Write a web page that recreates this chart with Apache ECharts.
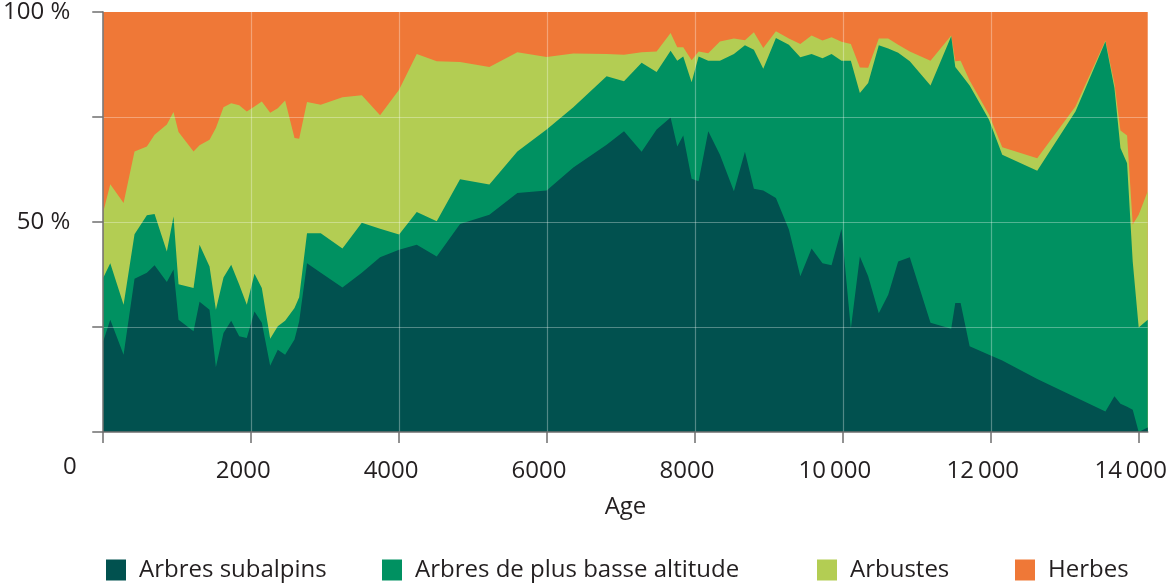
<!DOCTYPE html>
<html>
<head>
<meta charset="utf-8">
<script src="https://cdn.jsdelivr.net/npm/echarts@6/dist/echarts.min.js"></script>
<style>
html,body{margin:0;padding:0;background:#fff;}
#chart{width:1170px;height:584px;}
</style>
</head>
<body>
<div id="chart"></div>
<script>
// Ages (years) of the samples
const ages = [0,95,275,423,590,694,860,950,1018,1221,1302,1437,1523,1626,1730,1838,1941,2045,2144,2257,2360,2459,2586,2649,2755,2941,3234,3496,3743,4000,4239,4509,4824,5221,5599,5995,6356,6806,7041,7279,7482,7671,7761,7842,7955,8050,8180,8338,8527,8676,8797,8924,9095,9270,9425,9577,9725,9847,9982,10108,10230,10342,10486,10613,10748,10905,11185,11465,11520,11592,11714,11975,12155,12628,13145,13550,13672,13753,13843,13919,14000,14122];

// Percentages of each group
const subalpins = [21.6,26.7,18.4,36.5,37.9,39.7,35.7,38.7,26.7,24.0,31.0,29.1,15.4,23.6,26.5,22.8,22.4,28.7,26.0,15.8,19.6,18.4,22.0,26.3,40.2,37.9,34.4,37.9,41.6,43.4,44.6,41.8,49.5,51.7,56.9,57.5,63.0,68.4,71.6,66.7,72.0,74.9,68.0,70.6,60.3,59.7,71.6,66.0,57.3,66.7,57.9,57.5,55.7,48.2,37.1,43.7,40.2,39.7,48.4,24.6,41.8,37.1,28.3,32.7,40.6,41.6,26.0,24.6,30.7,30.7,20.4,18.4,17.0,12.6,8.3,4.9,8.5,6.7,6.0,5.3,0,1.1];
const basseAltitude = [15.1,13.5,11.9,10.6,13.7,12.2,7.3,12.6,8.5,10.3,13.6,10.3,13.7,13.2,13.3,12.3,7.9,9.0,8.3,6.4,5.6,8.1,7.5,5.8,7.1,9.4,9.3,11.9,6.8,3.6,7.8,8.4,10.7,7.2,9.9,14.5,14.3,16.3,11.9,21.2,13.7,15.9,20.4,18.8,23.0,29.7,16.8,22.4,32.7,25.4,33.1,29.0,38.1,44.0,52.1,46.3,48.8,50.3,40.0,63.8,38.9,46.0,63.8,58.6,49.7,46.7,56.5,69.6,56.2,54.6,62.1,56.0,49.0,49.6,68.0,88.1,73.4,60.9,58.0,35.3,24.9,25.6];
const arbustes = [15.7,18.8,24.2,19.7,16.4,18.9,30.2,24.9,36.2,32.5,23.7,30.2,43.3,40.5,38.5,42.7,46.0,39.8,44.4,53.8,51.9,52.4,40.5,37.7,31.3,30.6,36.0,30.4,27.0,34.5,37.6,38.1,27.9,28.0,23.6,17.3,12.8,5.3,6.3,2.5,4.9,4.2,3.2,2.2,5.2,1.2,1.8,4.6,3.7,1.2,4.2,4.9,1.6,1.5,3.2,4.4,4.2,4.0,4.5,4.0,6.1,3.6,1.6,2.4,1.9,2.3,5.9,0.2,1.4,3.1,1.2,1.2,1.8,3.0,1.2,0.2,1.0,4.2,6.6,8.8,26.8,30.6];
const herbes = [47.6,41.0,45.5,33.2,32.0,29.2,26.8,23.8,28.6,33.2,31.7,30.4,27.6,22.7,21.7,22.2,23.7,22.5,21.3,24.0,22.9,21.1,30.0,30.2,21.4,22.1,20.3,19.8,24.6,18.5,10.0,11.7,11.9,13.1,9.6,10.7,9.9,10.0,10.2,9.6,9.4,5.0,8.4,8.4,11.5,9.4,9.8,7.0,6.3,6.7,4.8,8.6,4.6,6.3,7.6,5.6,6.8,6.0,7.1,7.6,13.2,13.3,6.3,6.3,7.8,9.4,11.6,5.6,11.7,11.6,16.3,24.4,32.2,34.8,22.5,6.8,17.1,28.2,29.4,50.6,48.3,42.7];

const seriesNames = ['Arbres subalpins','Arbres de plus basse altitude','Arbustes','Herbes'];
const seriesColors = ['#01514f','#009161','#b3cd53','#ef7837'];
const seriesValues = [subalpins, basseAltitude, arbustes, herbes];
const xTicks = [0,2000,4000,6000,8000,10000,12000,14000];

const FONT = '"Open Sans", "Noto Sans", sans-serif';
const TXT = '#231f20';

// cumulative tops (stack built from the series values)
const cumulative = seriesValues.map((vals, s) =>
  ages.map((a, k) => {
    let sum = 0;
    for (let j = 0; j <= s; j++) sum += seriesValues[j][k];
    return [a, +sum.toFixed(2)];
  })
);

const chart = echarts.init(document.getElementById('chart'), null, {renderer:'canvas'});

const legendLefts = [101, 377, 812, 1010];

// draw top-most band first so lower bands paint over it
const order = [3,2,1,0];

const option = {
  animation:false,
  backgroundColor:'#ffffff',
  grid:{left:103, right:21, top:12, bottom:152},
  xAxis:{
    type:'value', min:0, max:14122, interval:2000, z:5,
    name:'Age', nameLocation:'middle', nameGap:63,
    nameTextStyle:{fontFamily:FONT, fontSize:24, color:TXT},
    axisLine:{show:true, lineStyle:{color:'#6f6f6f', width:1.5}},
    axisTick:{show:true, length:11, inside:false, customValues:xTicks, lineStyle:{color:'#6f6f6f', width:1.5}},
    axisLabel:{
      margin:27, fontFamily:FONT, fontSize:24, color:TXT, padding:[0,16,0,0],
      customValues:xTicks.filter(v=>v>0),
      formatter:function(v){
        if(v>=10000){const s=String(v);return s.slice(0,s.length-3)+'\u2009'+s.slice(-3);}
        return String(v);
      }
    },
    splitLine:{show:true, showMinLine:false, showMaxLine:false, lineStyle:{color:'rgba(255,255,255,0.32)', width:1.2}}
  },
  yAxis:{
    type:'value', min:0, max:100, interval:25, z:5,
    axisLine:{show:true, lineStyle:{color:'#6f6f6f', width:1.5}},
    axisTick:{show:true, length:11, inside:false, lineStyle:{color:'#6f6f6f', width:1.5}},
    axisLabel:{
      margin:33, fontFamily:FONT, fontSize:24, color:TXT,
      formatter:function(v){ return (v===100||v===50) ? v+' %' : ''; }
    },
    splitLine:{show:true, showMinLine:false, showMaxLine:false, lineStyle:{color:'rgba(255,255,255,0.32)', width:1.2}}
  },
  legend: seriesNames.map((n,i)=>({
    data:[n], left:legendLefts[i], top:553, itemWidth:20, itemHeight:21, icon:'rect',
    textStyle:{fontFamily:FONT, fontSize:24, color:TXT, padding:[0,0,0,8]}
  })),
  graphic:[{
    type:'text', left:63, top:455,
    style:{text:'0', font:'24px "Open Sans", sans-serif', fill:TXT}
  }],
  series: order.map((i, r)=>({
    name:seriesNames[i], type:'line', z:2,
    showSymbol:false, symbol:'none',
    lineStyle:{width:0},
    itemStyle:{color:seriesColors[i]},
    areaStyle:{color:seriesColors[i], opacity:1, origin:'start'},
    emphasis:{disabled:true},
    data: cumulative[i]
  }))
};
chart.setOption(option);
</script>
</body>
</html>
